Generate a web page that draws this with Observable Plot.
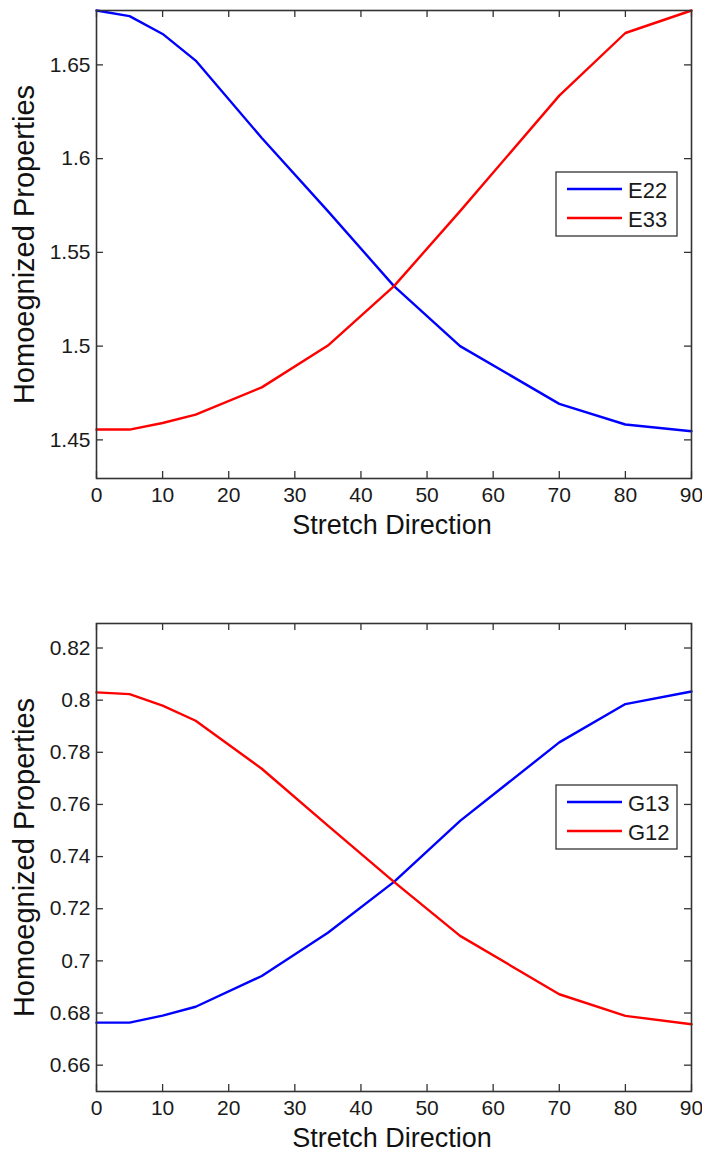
<!DOCTYPE html>
<html>
<head>
<meta charset="utf-8">
<script src="https://cdn.jsdelivr.net/npm/d3@7"></script>
<script src="https://cdn.jsdelivr.net/npm/@observablehq/plot@0.6"></script>
<style>
  html, body { margin: 0; padding: 0; background: #fff; }
  #root { width: 702px; }
  svg { display: block; }
</style>
</head>
<body>
<div id="root"></div>
<script>
// ---- data ----
const stretch = [0, 5, 10, 15, 25, 35, 45, 55, 70, 80, 90];
const E22 = [1.679, 1.676, 1.6665, 1.6523, 1.611, 1.572, 1.532, 1.5, 1.4692, 1.4582, 1.4546];
const E33 = [1.4555, 1.4555, 1.459, 1.4635, 1.478, 1.5003, 1.532, 1.572, 1.6336, 1.667, 1.679];
const G13 = [0.6763, 0.6763, 0.679, 0.6824, 0.6942, 0.7108, 0.7303, 0.7537, 0.7838, 0.7985, 0.8033];
const G12 = [0.803, 0.8023, 0.7979, 0.7921, 0.7737, 0.7519, 0.7303, 0.7096, 0.6872, 0.6789, 0.6757];
const xTicks = [0, 10, 20, 30, 40, 50, 60, 70, 80, 90];
const topYTicks = [1.45, 1.5, 1.55, 1.6, 1.65];
const botYTicks = [0.66, 0.68, 0.7, 0.72, 0.74, 0.76, 0.78, 0.8, 0.82];
const topNames = ["E22", "E33"];
const botNames = ["G13", "G12"];
const seriesColors = ["#0000ff", "#ff0000"];
const xLabel = "Stretch Direction";
const yLabel = "Homoegnized Properties";

const W = 702, H = 577, ML = 96, MR = 11, FH = 468;
const FONT = "'Liberation Sans', Arial, Helvetica, sans-serif";
const fmt = d => String(+d.toFixed(4));

function chart(names, values, yDomain, yTicks, marginTop) {
  const rows = names.flatMap((n, i) => stretch.map((x, j) => ({x, y: values[i][j], name: n})));
  const fw = W - ML - MR;
  const svg = Plot.plot({
    width: W, height: H,
    marginLeft: ML, marginRight: MR, marginTop, marginBottom: H - marginTop - FH,
    style: {fontFamily: FONT, fontSize: "21px", color: "#1a1a1a", background: "#fff"},
    x: {domain: [0, 90], ticks: xTicks, tickSize: 0, tickPadding: 9, tickFormat: fmt, label: null},
    y: {domain: yDomain, ticks: yTicks, tickSize: 0, tickPadding: 6, tickFormat: fmt, label: null},
    color: {domain: names, range: seriesColors},
    marks: [
      Plot.line(rows, {x: "x", y: "y", z: "name", stroke: "name", strokeWidth: 2.4}),
      Plot.tickX(xTicks, {x: d => d, insetTop: FH - 7, stroke: "#333", strokeWidth: 1.3}),
      Plot.tickX(xTicks, {x: d => d, insetBottom: FH - 7, stroke: "#333", strokeWidth: 1.3}),
      Plot.tickY(yTicks, {y: d => d, insetLeft: fw - 7, stroke: "#333", strokeWidth: 1.3}),
      Plot.tickY(yTicks, {y: d => d, insetRight: fw - 7, stroke: "#333", strokeWidth: 1.3}),
      Plot.frame({stroke: "#333", strokeWidth: 1.6}),
      Plot.text([xLabel], {text: d => d, frameAnchor: "bottom", textAnchor: "middle", lineAnchor: "middle",
        dx: -2, dy: 46.4, fontSize: 27, fill: "#111"}),
      Plot.text([yLabel], {text: d => d, frameAnchor: "left", textAnchor: "middle", lineAnchor: "middle",
        rotate: -90, dx: -72, fontSize: 29, fill: "#111"})
    ]
  });
  // legend inside the axes (north-east area)
  const g = d3.select(svg).append("g").attr("font-family", FONT).attr("font-size", 22)
    .attr("text-anchor", "start");
  const bx = W - MR - 135, by = marginTop + 162, bw = 121, bh = 64;
  g.append("rect").attr("x", bx).attr("y", by).attr("width", bw).attr("height", bh)
    .attr("fill", "#fff").attr("stroke", "#333").attr("stroke-width", 1.3);
  names.forEach((n, i) => {
    const ly = by + 17 + i * 29;
    g.append("line").attr("x1", bx + 11).attr("x2", bx + 66).attr("y1", ly).attr("y2", ly)
      .attr("stroke", seriesColors[i]).attr("stroke-width", 2.4);
    g.append("text").attr("x", bx + 72).attr("y", ly + 9).attr("fill", "#1a1a1a").text(n);
  });
  return svg;
}

const root = document.getElementById("root");
root.appendChild(chart(topNames, [E22, E33], [1.4294, 1.679], topYTicks, 10));
root.appendChild(chart(botNames, [G13, G12], [0.6499, 0.8294], botYTicks, 46));
</script>
</body>
</html>
